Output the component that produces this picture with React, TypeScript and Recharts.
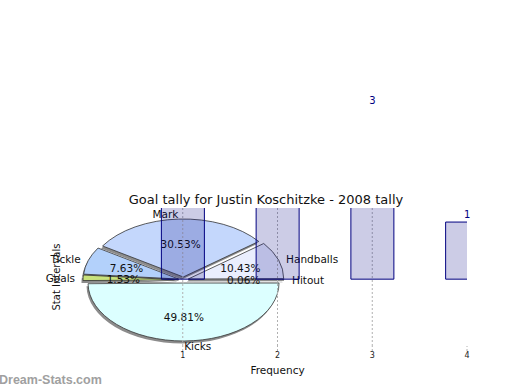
import React from "react"
import { BarChart, Bar, XAxis, YAxis, CartesianGrid, LabelList, PieChart, Pie, Cell } from "recharts"

// pie slices, counter-clockwise from 3 o'clock
const sliceNames = ["Hitout", "Handballs", "Mark", "Tickle", "Goals", "Kicks"]
const slicePercents = [0.06, 10.43, 30.53, 7.63, 1.53, 49.81]
const sliceColors = ["#e4e9fb", "#eaeefd", "#c4d7fc", "#b3d1fb", "#c8e27c", "#dcffff"]

// histogram behind the pie
const intervals = [1, 2, 3, 4]
const frequencies = [6, 5, 3, 1]
const xTicks = [1, 2, 3, 4]
const gridLines = [1, 2, 3]

const RAD = Math.PI / 180
const TILT = 0.607 // vertical squash of the 3d pie
const EXPLODE = 5

const pieData = sliceNames.map((name, i) => ({ name, value: slicePercents[i] }))
const barData = intervals.map((interval, i) => ({ interval, freq: frequencies[i] }))

function ellipseSlice(cx: number, cy: number, r: number, a0: number, a1: number) {
  const x0 = cx + r * Math.cos(a0 * RAD)
  const y0 = cy - TILT * r * Math.sin(a0 * RAD)
  const x1 = cx + r * Math.cos(a1 * RAD)
  const y1 = cy - TILT * r * Math.sin(a1 * RAD)
  const large = a1 - a0 > 180 ? 1 : 0
  return `M${cx},${cy}L${x0},${y0}A${r},${r * TILT} 0 ${large} 0 ${x1},${y1}Z`
}

function PieSlice(props: any) {
  const { cx, cy, outerRadius, startAngle, endAngle, midAngle, fill } = props
  const ex = cx + EXPLODE * Math.cos(midAngle * RAD)
  const ey = cy - TILT * EXPLODE * Math.sin(midAngle * RAD)
  const d = ellipseSlice(ex, ey, outerRadius, Math.min(startAngle, endAngle), Math.max(startAngle, endAngle))
  return (
    <g>
      <path d={d} transform="translate(-1.5,2.5)" fill="#8c8c8c" />
      <path d={d} fill={fill} stroke="#333" strokeWidth={0.8} />
    </g>
  )
}

function PieLabel(props: any) {
  const { cx, cy, midAngle, outerRadius, payload } = props
  const c = Math.cos(midAngle * RAD)
  const s = Math.sin(midAngle * RAD)
  const rl = outerRadius + 13
  const rp = outerRadius * 0.63
  return (
    <g>
      <text x={cx + rl * c} y={cy - TILT * rl * s} textAnchor={c >= 0 ? "start" : "end"} dominantBaseline="central" fontSize={10.5} fill="#111">
        {payload.name}
      </text>
      <text x={cx + rp * c} y={cy - TILT * rp * s} textAnchor="middle" dominantBaseline="central" fontSize={10.5} fill="#111">
        {payload.value.toFixed(2)}%
      </text>
    </g>
  )
}

// value above a bar, skipped when it falls above the picture
function BarValue(props: any) {
  const { x, y, width, value } = props
  if (y - 4 < 10) return null
  return (
    <text x={x + width / 2} y={y - 4} textAnchor="middle" fontSize={10} fill="#000080">
      {value}
    </text>
  )
}

export default function App() {
  return (
    <div style={{ position: "absolute", left: 0, top: 0, width: 520, height: 390, background: "#fff", fontFamily: "DejaVu Sans", overflow: "hidden" }}>
      <div style={{ position: "absolute", left: 0, top: 0 }}>
        <PieChart width={520} height={390} margin={{ top: 0, right: 0, bottom: 0, left: 0 }}>
          <Pie
            data={pieData}
            dataKey="value"
            nameKey="name"
            cx={183.5}
            cy={280}
            outerRadius={95.5}
            startAngle={0}
            endAngle={360}
            stroke="none"
            shape={PieSlice}
            label={PieLabel}
            labelLine={false}
            isAnimationActive={false}
          >
            {pieData.map((d, i) => (
              <Cell key={d.name} fill={sliceColors[i]} />
            ))}
          </Pie>
        </PieChart>
      </div>
      <div style={{ position: "absolute", left: 0, top: 0 }}>
        <BarChart width={520} height={390} data={barData} margin={{ top: 208, right: 53, bottom: 0, left: 40 }}>
          <CartesianGrid vertical horizontal={false} verticalValues={gridLines} stroke="#b0b0b0" strokeDasharray="2 2" />
          <XAxis
            dataKey="interval"
            type="number"
            domain={[0, 4]}
            allowDataOverflow
            ticks={xTicks}
            axisLine={false}
            tickLine={{ stroke: "#b0b0b0", strokeDasharray: "2 2" }}
            tickSize={5}
            tickMargin={1}
            tick={{ fontSize: 8, fill: "#222" }}
            height={44}
            label={{ value: "Frequency", position: "insideBottom", offset: 16, fontSize: 10.5, fill: "#111" }}
          />
          <YAxis
            type="number"
            domain={[-1.17, 1.246]}
            allowDataOverflow
            width={48}
            tick={false}
            axisLine={false}
            tickLine={false}
            label={{ value: "Stat Intervals", angle: -90, position: "insideLeft", offset: 16, fontSize: 10, fill: "#111", style: { textAnchor: "middle" } }}
          />
          <Bar dataKey="freq" barSize={43} fill="#000080" fillOpacity={0.2} stroke="#000080" isAnimationActive={false}>
            <LabelList dataKey="freq" content={BarValue} />
          </Bar>
        </BarChart>
      </div>
      <div style={{ position: "absolute", left: 0, width: 532, top: 192, lineHeight: "16px", fontSize: 13, color: "#111", textAlign: "center", whiteSpace: "nowrap" }}>
        Goal tally for Justin Koschitzke - 2008 tally
      </div>
      <div style={{ position: "absolute", left: -1, top: 372, lineHeight: "16px", fontSize: 12.5, fontWeight: "bold", fontFamily: "Liberation Sans", color: "#a0a0a0", whiteSpace: "nowrap" }}>
        Dream-Stats.com
      </div>
    </div>
  )
}
